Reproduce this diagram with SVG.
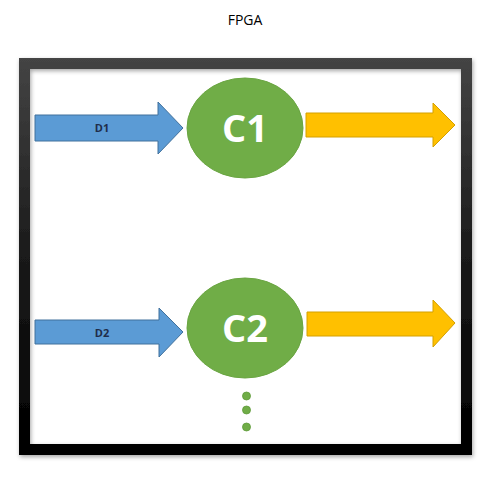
<svg xmlns="http://www.w3.org/2000/svg" width="491" height="478" viewBox="0 0 491 478">
<defs>
<linearGradient id="frameGrad" x1="0" y1="0" x2="0" y2="1">
<stop offset="0" stop-color="#444"/>
<stop offset="0.5" stop-color="#1a1a1a"/>
<stop offset="1" stop-color="#000"/>
</linearGradient>
<filter id="shadow" x="-5%" y="-5%" width="110%" height="110%">
<feDropShadow dx="1" dy="2" stdDeviation="2" flood-color="#000" flood-opacity="0.35"/>
</filter>
</defs>
<style>
.blue{fill:#5B9BD5;stroke:#41719C;stroke-width:1}
.yellow{fill:#FFC000;stroke:#D4A000;stroke-width:1}
.node{fill:#70AD47;stroke:#6AA542;stroke-width:1}
.big{font-family:"Open Sans","Liberation Sans",sans-serif;font-weight:bold;font-size:38px;fill:#fff;text-anchor:middle}
.lbl{font-family:"Open Sans","Liberation Sans",sans-serif;font-weight:bold;font-size:11px;fill:#1F2D4A;text-anchor:middle}
.title{font-family:"Open Sans","Liberation Sans",sans-serif;font-size:14px;fill:#000;text-anchor:middle}
.dot{fill:#70AD47;stroke:#5E9A3A;stroke-width:0.8}
</style>
<rect width="491" height="478" fill="#fff"/>
<text class="title" x="245" y="25">FPGA</text>
<g id="frame">
<path d="M19,58 H472 V455 H19 Z M30,69 V444 H461 V69 Z" fill="url(#frameGrad)" fill-rule="evenodd" filter="url(#shadow)"/>
</g>
<g id="connectors">
<g id="D1">
<polygon class="blue" points="35,115 158,115 158,102 183,128 158,154 158,141 35,141"/>
<text class="lbl" x="102" y="132">D1</text>
</g>
<g id="D2">
<polygon class="blue" points="35,320 159,320 159,308 183,332 159,357 159,344 35,344"/>
<text class="lbl" x="102" y="337">D2</text>
</g>
<g id="out1">
<polygon class="yellow" points="306,113 433,113 433,103 455,125 433,147 433,137 306,137"/>
</g>
<g id="out2">
<polygon class="yellow" points="307,312 433,312 433,300 455,323 433,347 433,336 307,336"/>
</g>
</g>
<g id="C1">
<ellipse class="node" cx="245" cy="128" rx="58" ry="50"/>
<text class="big" x="245" y="142">C1</text>
</g>
<g id="C2">
<ellipse class="node" cx="245" cy="328" rx="58" ry="50"/>
<text class="big" x="245" y="342">C2</text>
</g>
<g id="dots">
<circle class="dot" cx="246.5" cy="396" r="4"/>
<circle class="dot" cx="246.5" cy="410" r="4"/>
<circle class="dot" cx="246.5" cy="427" r="4"/>
</g>
</svg>
